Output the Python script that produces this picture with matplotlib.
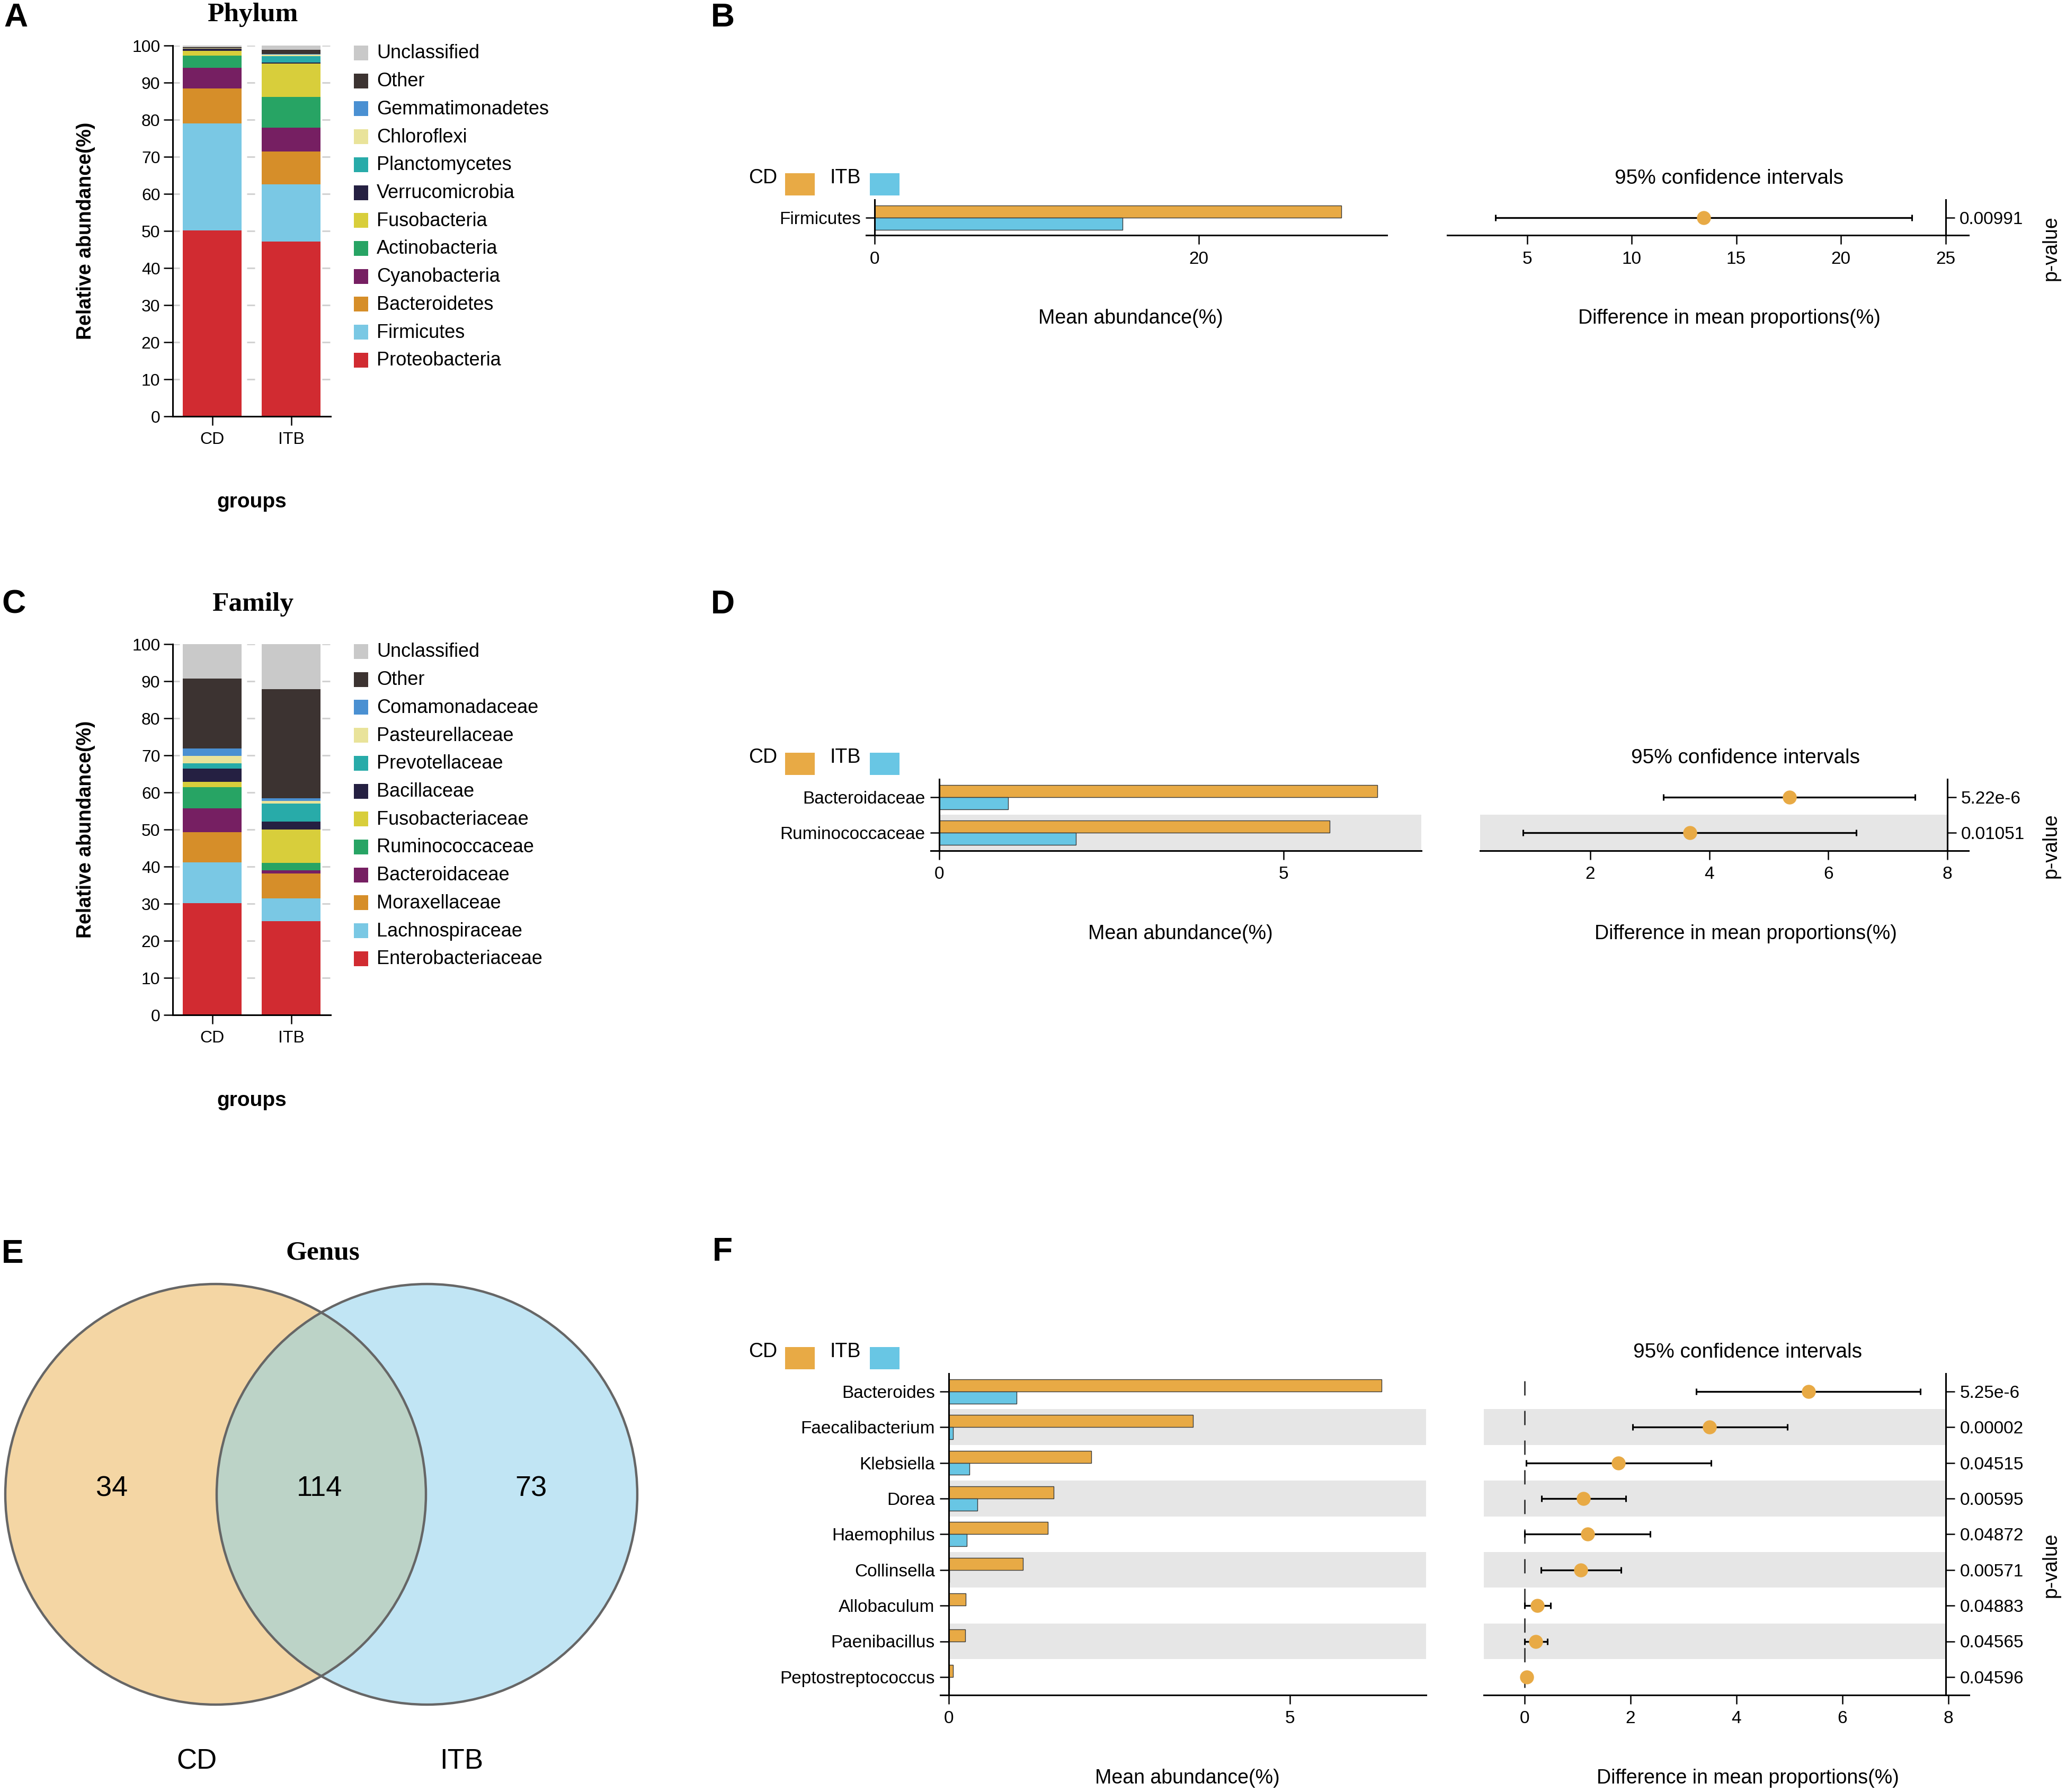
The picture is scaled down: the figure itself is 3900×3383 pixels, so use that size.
import numpy as np
import matplotlib
matplotlib.use("Agg")
import matplotlib.pyplot as plt
from matplotlib.patches import Rectangle, Circle

plt.rcParams['font.family'] = ['Liberation Sans', 'DejaVu Sans']
plt.rcParams['lines.scale_dashes'] = False

# ---- data ----
groups = ["CD", "ITB"]

# stacked compositions, listed bottom -> top
stack_colors = ['#d12b31', '#7ac8e4', '#d68e29', '#761f62', '#27a464', '#d8ce3b',
                '#252042', '#28aba9', '#e9e39a', '#4a90d2', '#3c3331', '#c9c9c9']

phylum_names = ["Proteobacteria", "Firmicutes", "Bacteroidetes", "Cyanobacteria",
                "Actinobacteria", "Fusobacteria", "Verrucomicrobia", "Planctomycetes",
                "Chloroflexi", "Gemmatimonadetes", "Other", "Unclassified"]
phylum_cd = [50.1, 28.9, 9.4, 5.6, 3.3, 1.3, 0.5, 0.1, 0.1, 0.05, 0.2, 0.45]
phylum_itb = [47.2, 15.4, 8.9, 6.3, 8.3, 9.1, 0.2, 1.8, 0.4, 0.1, 1.1, 1.2]

family_names = ["Enterobacteriaceae", "Lachnospiraceae", "Moraxellaceae", "Bacteroidaceae",
                "Ruminococcaceae", "Fusobacteriaceae", "Bacillaceae", "Prevotellaceae",
                "Pasteurellaceae", "Comamonadaceae", "Other", "Unclassified"]
family_cd = [30.1, 11.0, 8.2, 6.4, 5.7, 1.5, 3.5, 1.5, 2.0, 1.9, 18.9, 9.3]
family_itb = [25.3, 6.1, 6.7, 0.9, 2.0, 9.0, 2.2, 4.8, 0.7, 0.8, 29.3, 12.2]

# phylum level difference
b_taxa = ["Firmicutes"]
b_cd = [28.8]
b_itb = [15.3]
b_diff = [13.45]
b_lo = [3.5]
b_hi = [23.4]
b_p = ["0.00991"]

# family level difference
d_taxa = ["Bacteroidaceae", "Ruminococcaceae"]
d_cd = [6.36, 5.67]
d_itb = [1.0, 1.99]
d_diff = [5.35, 3.67]
d_lo = [3.23, 0.87]
d_hi = [7.46, 6.47]
d_p = ["5.22e-6", "0.01051"]

# genus level difference
f_taxa = ["Bacteroides", "Faecalibacterium", "Klebsiella", "Dorea", "Haemophilus",
          "Collinsella", "Allobaculum", "Paenibacillus", "Peptostreptococcus"]
f_cd = [6.35, 3.58, 2.09, 1.54, 1.45, 1.09, 0.25, 0.24, 0.06]
f_itb = [0.99, 0.06, 0.30, 0.42, 0.26, 0.01, 0.0, 0.0, 0.01]
f_diff = [5.36, 3.49, 1.77, 1.11, 1.19, 1.06, 0.24, 0.21, 0.04]
f_lo = [3.24, 2.04, 0.03, 0.32, 0.0, 0.31, 0.0, 0.0, -0.01]
f_hi = [7.47, 4.96, 3.52, 1.91, 2.37, 1.82, 0.49, 0.43, 0.10]
f_p = ["5.25e-6", "0.00002", "0.04515", "0.00595", "0.04872", "0.00571",
       "0.04883", "0.04565", "0.04596"]

# venn counts: CD only, shared, ITB only
venn_counts = [34, 114, 73]

CD_COL = '#e8aa45'
ITB_COL = '#68c6e4'
BAND = '#e6e6e6'

W, H = 3900, 3383
fig = plt.figure(figsize=(W / 100, H / 100), dpi=100)


def px_axes(x0, y0, x1, y1):
    return fig.add_axes([x0 / W, 1 - y1 / H, (x1 - x0) / W, (y1 - y0) / H])


def ftext(x, y, s, **kw):
    return fig.text(x / W, 1 - y / H, s, **kw)


def frect(x0, y0, x1, y1, color):
    fig.patches.append(Rectangle((x0 / W, 1 - y1 / H), (x1 - x0) / W, (y1 - y0) / H,
                                 transform=fig.transFigure, color=color, lw=0))


def letter(x, y, s):
    ftext(x, y, s, fontsize=45, fontweight='bold', ha='center', va='center')


def composition(top, names, cd, itb, title, title_y):
    ax = px_axes(326, top, 624, top + 700)
    bottom = np.zeros(2)
    for col, a, b in zip(stack_colors, cd, itb):
        ax.bar([0, 1], [a, b], 0.75, bottom=bottom, color=col, lw=0, zorder=2)
        bottom += [a, b]
    ax.set_xlim(-0.5, 1.5)
    ax.set_ylim(0, 100)
    ax.set_yticks(range(0, 101, 10))
    ax.set_xticks([0, 1])
    ax.set_xticklabels(groups)
    ax.yaxis.grid(True, color='#d2d2d2', lw=2.2, linestyle=(1.4, (10.8, 91.4)))
    ax.set_axisbelow(True)
    for s in ['top', 'right']:
        ax.spines[s].set_visible(False)
    for s in ['left', 'bottom']:
        ax.spines[s].set_linewidth(2.2)
    ax.tick_params(labelsize=23, length=12, width=1.8, pad=5)
    ax.tick_params(axis='x', pad=9)
    ftext(477, title_y, title, fontsize=37, fontweight='bold', family='Liberation Serif',
          ha='center', va='center')
    ftext(162, top + 350, "Relative abundance(%)", fontsize=27, fontweight='bold',
          rotation=90, ha='center', va='center')
    ftext(475, top + 862, "groups", fontsize=28, fontweight='bold', ha='center', va='center')
    for i, (name, col) in enumerate(zip(names[::-1], stack_colors[::-1])):
        y = top + 14 + i * 52.7
        frect(668, y - 14, 695, y + 14, col)
        ftext(711, y + 1, name, fontsize=26, va='center')


def diff_panel(top, taxa, cd, itb, diff, lo, hi, pv, lbox, lxlim, lticks,
               rbox, rxlim, spine_x, rticks, title_dx):
    n = len(taxa)
    bottom = top + 67.4 * n
    rows = np.arange(n)
    cd, itb, diff = np.array(cd), np.array(itb), np.array(diff)
    lo, hi = np.array(lo), np.array(hi)

    # left: mean abundance bars
    ax = px_axes(lbox[0], top, lbox[1], bottom)
    ax.barh(rows[1::2], lxlim[1], left=0, height=1.0, color=BAND, lw=0, zorder=0)
    ax.barh(rows - 0.17, cd, height=0.34, color=CD_COL, edgecolor='#3a3a3a', lw=1.0, zorder=2)
    ax.barh(rows + 0.17, itb, height=0.34, color=ITB_COL, edgecolor='#3a3a3a', lw=1.0, zorder=2)
    ax.set_xlim(*lxlim)
    ax.set_ylim(n - 0.5, -0.5)
    ax.set_yticks(rows)
    ax.set_yticklabels(taxa)
    ax.set_xticks(lticks)
    ax.spines['left'].set_position(('data', 0))
    for s in ['top', 'right']:
        ax.spines[s].set_visible(False)
    for s in ['left', 'bottom']:
        ax.spines[s].set_linewidth(2.2)
    ax.tick_params(labelsize=24, length=12, width=1.8, pad=7)
    ax.tick_params(axis='x', pad=9)
    ftext((lbox[0] + lbox[1]) / 2 + 8, bottom + 157, "Mean abundance(%)", fontsize=27,
          ha='center', va='center')

    # legend
    ftext(1413, top - 41, "CD", fontsize=27, va='center')
    frect(1482, top - 50, 1538, top - 8, CD_COL)
    ftext(1567, top - 41, "ITB", fontsize=27, va='center')
    frect(1642, top - 50, 1698, top - 8, ITB_COL)

    # right: difference with 95% CI
    ax2 = px_axes(rbox[0], top, rbox[1], bottom)
    ax2.barh(rows[1::2], spine_x - rxlim[0], left=rxlim[0], height=1.0, color=BAND,
             lw=0, zorder=0)
    if rxlim[0] < 0:
        ax2.plot([0, 0], [-0.5, n - 0.7], color='#333333', lw=2.0,
                 linestyle=(30.2, (19.4, 20.9)), zorder=1)
    ax2.errorbar(diff, rows, xerr=[diff - lo, hi - diff], fmt='none', ecolor='black',
                 elinewidth=2.4, capsize=4.5, capthick=2.2, zorder=3)
    ax2.plot(diff, rows, 'o', color=CD_COL, ms=19, mew=0, zorder=4)
    ax2.set_xlim(*rxlim)
    ax2.set_ylim(n - 0.5, -0.5)
    ax2.set_xticks(rticks)
    ax2.yaxis.tick_right()
    ax2.set_yticks(rows)
    ax2.set_yticklabels(pv)
    ax2.spines['right'].set_position(('data', spine_x))
    for s in ['top', 'left']:
        ax2.spines[s].set_visible(False)
    for s in ['right', 'bottom']:
        ax2.spines[s].set_linewidth(2.2)
    ax2.tick_params(labelsize=24, length=12, width=1.8, pad=7)
    ax2.tick_params(axis='x', pad=9)
    cx = (rbox[0] + rbox[1]) / 2 + title_dx
    ftext(cx, top - 40, "95% confidence intervals", fontsize=28, ha='center', va='center')
    ftext(cx, bottom + 157, "Difference in mean proportions(%)", fontsize=27,
          ha='center', va='center')
    ftext(3872, (top + bottom) / 2 + 58, "p-value", fontsize=27, rotation=90,
          ha='center', va='center')


# ---- A / C stacked bars ----
composition(86, phylum_names, phylum_cd, phylum_itb, "Phylum", 28)
composition(1216, family_names, family_cd, family_itb, "Family", 1141)

# ---- B / D / F difference plots ----
diff_panel(377, b_taxa, b_cd, b_itb, b_diff, b_lo, b_hi, b_p,
           (1635, 2618), (-0.52, 31.6), [0, 20],
           (2732, 3716), (1.19, 26.1), 25, [5, 10, 15, 20, 25], 40)
diff_panel(1471, d_taxa, d_cd, d_itb, d_diff, d_lo, d_hi, d_p,
           (1757, 2683), (-0.12, 7.0), [0, 5],
           (2794, 3716), (0.146, 8.36), 8, [2, 4, 6, 8], 40)
diff_panel(2593, f_taxa, f_cd, f_itb, f_diff, f_lo, f_hi, f_p,
           (1775, 2692), (-0.125, 7.0), [0, 5],
           (2801, 3717), (-0.77, 8.39), 7.95, [0, 2, 4, 6, 8], 40)

# ---- E venn ----
axv = px_axes(0, 2300, 1300, 3383)
axv.set_xlim(0, 1300)
axv.set_ylim(3383, 2300)
axv.axis('off')
c_cd = Circle((407, 2821), 397, fc='#f4d6a4', ec='none')
c_itb = Circle((806, 2821), 397, fc='#c1e5f4', ec='none')
axv.add_patch(c_cd)
axv.add_patch(c_itb)
c_both = Circle((806, 2821), 397, fc='#bcd3c7', ec='none')
axv.add_patch(c_both)
c_both.set_clip_path(c_cd)
for cx in (407, 806):
    axv.add_patch(Circle((cx, 2821), 397, fill=False, ec='#666666', lw=3.2))
for x, v in zip((211, 603, 1002), venn_counts):
    axv.text(x, 2810, str(v), fontsize=39, ha='center', va='center')
for x, g in zip((371, 871), groups):
    axv.text(x, 3325, g, fontsize=38, ha='center', va='center')
ftext(609, 2366, "Genus", fontsize=37, fontweight='bold', family='Liberation Serif',
      ha='center', va='center')

# ---- panel letters ----
letter(30, 34, "A")
letter(1364, 34, "B")
letter(26, 1141, "C")
letter(1364, 1142, "D")
letter(24, 2367, "E")
letter(1364, 2363, "F")

fig.savefig("out.png", dpi=100)
